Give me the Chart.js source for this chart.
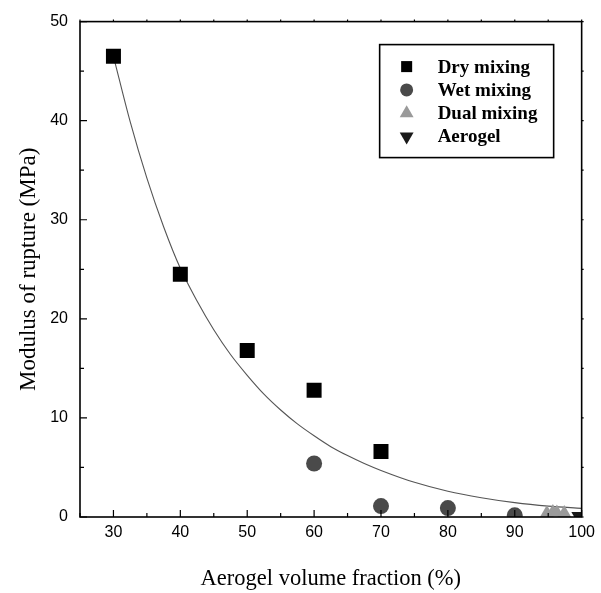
<!DOCTYPE html>
<html>
<head>
<meta charset="utf-8">
<script src="https://cdn.jsdelivr.net/npm/chart.js@4.4.1/dist/chart.umd.min.js"></script>
<style>
  html, body { margin: 0; padding: 0; background: #fff; }
  #wrap { width: 601px; height: 593px; }
</style>
</head>
<body>
<div id="wrap"><canvas id="myChart"></canvas></div>
<script>
// data
var seriesNames = ['Dry mixing', 'Wet mixing', 'Dual mixing', 'Aerogel'];

var dryX = [30, 40, 50, 60, 70];
var dryY = [46.5, 24.5, 16.8, 12.8, 6.6];

var wetX = [60, 70, 80, 90];
var wetY = [5.4, 1.1, 0.9, 0.17];

var dualX = [94.8, 95.7, 96.3, 97.4];
var dualY = [0.4, 0.5, 0.45, 0.4];

var aeroX = [99.5];
var aeroY = [0.1];

// fitted curve, points
var fitX = [30, 32.5, 35, 37.5, 40, 42.5, 45, 47.5, 50, 52.5, 55, 57.5, 60, 62.5, 65, 67.5, 70, 75, 80, 85, 90, 95, 100];
var fitY = [46.5, 39.9, 34.2, 29.3, 25.1, 21.8, 18.9, 16.4, 14.3, 12.4, 10.8, 9.4, 8.2, 7.1, 6.2, 5.4, 4.7, 3.5, 2.6, 1.95, 1.45, 1.1, 0.87];

var xTicks = [30, 40, 50, 60, 70, 80, 90, 100];
var yTicks = [0, 10, 20, 30, 40, 50];

function pts(xs, ys) {
    return xs.map(function(x, i) { return { x: x, y: ys[i] }; });
}

var sansFont = '"Liberation Sans", Arial, sans-serif';
var serifFont = '"Liberation Serif", "Times New Roman", serif';

// box frame, inward ticks and the framed legend
var framePlugin = {
    id: 'frame',
    afterDraw: function(chart) {
        var ctx = chart.ctx;
        var a = chart.chartArea;
        var xs = chart.scales.x, ys = chart.scales.y;
        ctx.save();
        ctx.strokeStyle = '#000';
        ctx.lineWidth = 1.6;
        ctx.strokeRect(a.left, a.top, a.right - a.left, a.bottom - a.top);

        ctx.lineWidth = 1.2;
        ctx.beginPath();
        for (var v = 25; v <= 100; v += 5) {
            var px = xs.getPixelForValue(v);
            var len = (v % 10 === 0) ? 7 : 4;
            ctx.moveTo(px, a.bottom); ctx.lineTo(px, a.bottom - len);
            ctx.moveTo(px, a.top); ctx.lineTo(px, a.top - 2);
        }
        for (var w = 0; w <= 50; w += 5) {
            var py = ys.getPixelForValue(w);
            var l2 = (w % 10 === 0) ? 7 : 4;
            ctx.moveTo(a.left, py); ctx.lineTo(a.left + l2, py);
            ctx.moveTo(a.right, py); ctx.lineTo(a.right + 2, py);
        }
        ctx.stroke();

        // legend
        var bx = a.right - 202, by = a.top + 23, bw = 174, bh = 113;
        ctx.lineWidth = 1.6;
        ctx.strokeRect(bx, by, bw, bh);
        ctx.font = 'bold 19px ' + serifFont;
        ctx.textBaseline = 'middle';
        chart.data.datasets.forEach(function(ds, i) {
            if (ds.hideInLegend) return;
            var cy = by + 22 + i * 23.3;
            ctx.fillStyle = ds.backgroundColor;
            Chart.helpers.drawPoint(ctx, {
                pointStyle: ds.pointStyle,
                rotation: ds.rotation || 0,
                radius: ds.legendRadius,
                borderWidth: 0
            }, bx + 27, cy);
            ctx.fillStyle = '#000';
            ctx.fillText(ds.label, bx + 58, cy + 1);
        });
        ctx.restore();
    }
};

var ctx = document.getElementById('myChart').getContext('2d');
var myChart = new Chart(ctx, {
    type: 'scatter',
    data: {
        datasets: [{
            label: seriesNames[0],
            data: pts(dryX, dryY),
            pointStyle: 'rect',
            pointRadius: 10.6,
            legendRadius: 7.8,
            backgroundColor: '#000000',
            borderColor: '#000000',
            borderWidth: 0,
            clip: 0
        }, {
            label: seriesNames[1],
            data: pts(wetX, wetY),
            pointStyle: 'circle',
            pointRadius: 8,
            legendRadius: 6.5,
            backgroundColor: '#4a4a4a',
            borderColor: '#4a4a4a',
            borderWidth: 0,
            clip: 0
        }, {
            label: seriesNames[2],
            data: pts(dualX, dualY),
            pointStyle: 'triangle',
            pointRadius: 8,
            legendRadius: 8,
            backgroundColor: '#9a9a9a',
            borderColor: '#9a9a9a',
            borderWidth: 0,
            clip: 0
        }, {
            label: seriesNames[3],
            data: pts(aeroX, aeroY),
            pointStyle: 'triangle',
            rotation: 180,
            pointRadius: 8,
            legendRadius: 8,
            backgroundColor: '#1a1a1a',
            borderColor: '#1a1a1a',
            borderWidth: 0,
            clip: 0
        }, {
            label: 'fit',
            hideInLegend: true,
            type: 'line',
            data: pts(fitX, fitY),
            borderColor: '#555555',
            borderWidth: 1.1,
            pointRadius: 0,
            fill: false,
            cubicInterpolationMode: 'monotone',
            order: 10
        }]
    },
    options: {
        responsive: true,
        maintainAspectRatio: false,
        animation: false,
        layout: { padding: { left: 0, top: 18, right: 19, bottom: 0 } },
        plugins: {
            legend: { display: false },
            tooltip: { enabled: false }
        },
        scales: {
            x: {
                type: 'linear',
                min: 25,
                max: 100,
                afterBuildTicks: function(scale) {
                    scale.ticks = xTicks.map(function(v) { return { value: v }; });
                },
                afterFit: function(scale) { scale.height = 76; },
                grid: { display: false, drawTicks: false },
                border: { display: false },
                ticks: {
                    padding: 6,
                    color: '#000',
                    font: { family: sansFont, size: 16 }
                },
                title: {
                    display: true,
                    text: 'Aerogel volume fraction (%)',
                    color: '#000',
                    font: { family: serifFont, size: 22.5 },
                    padding: { top: 0, bottom: 0 }
                }
            },
            y: {
                type: 'linear',
                min: 0,
                max: 50,
                afterBuildTicks: function(scale) {
                    scale.ticks = yTicks.map(function(v) { return { value: v }; });
                },
                afterFit: function(scale) { scale.width = 80; },
                grid: { display: false, drawTicks: false },
                border: { display: false },
                ticks: {
                    padding: 12,
                    color: '#000',
                    font: { family: sansFont, size: 16 }
                },
                title: {
                    display: true,
                    text: 'Modulus of rupture (MPa)',
                    color: '#000',
                    font: { family: serifFont, size: 23 },
                    padding: { top: 15, bottom: 0 }
                }
            }
        }
    },
    plugins: [framePlugin]
});
</script>
</body>
</html>
